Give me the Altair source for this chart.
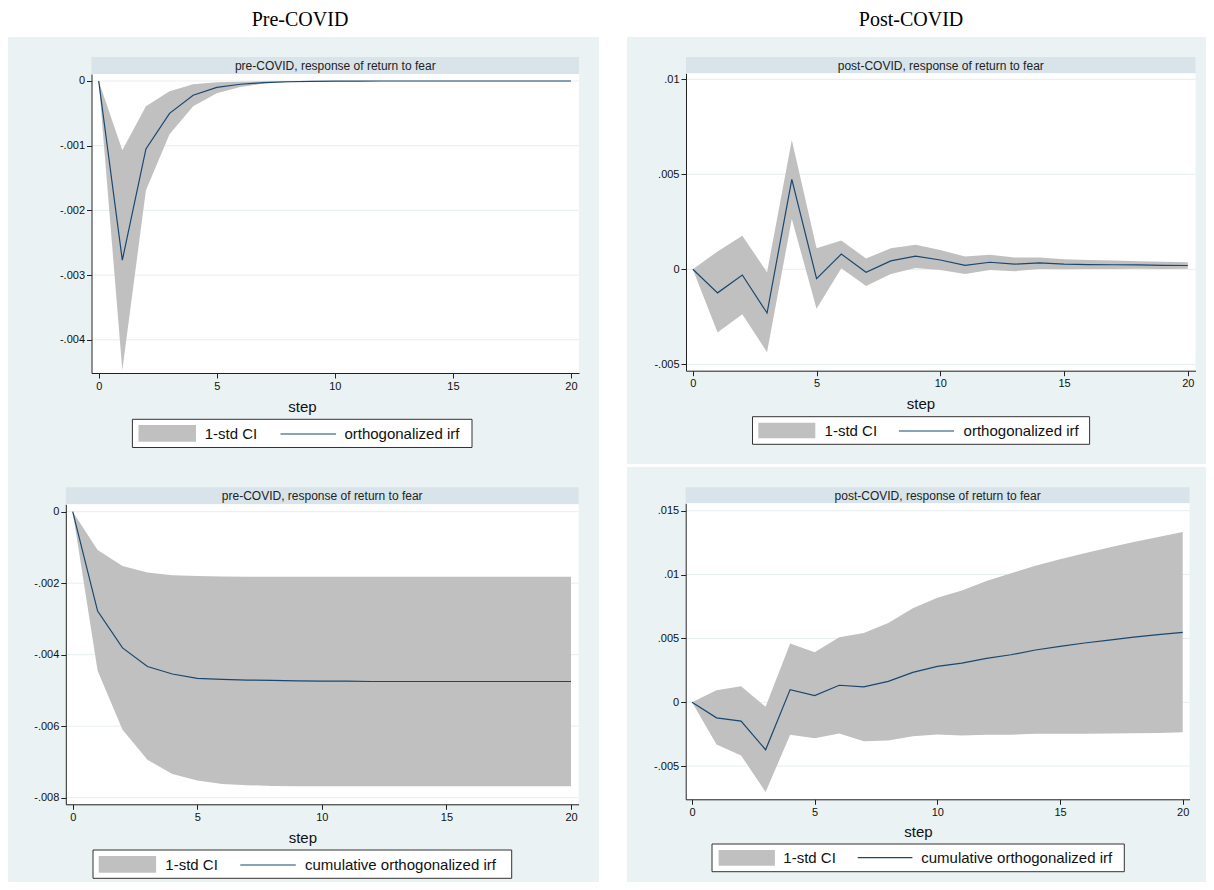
import altair as alt
import pandas as pd

# ---------------- data ----------------
STEPS = list(range(21))
X_TICKS = [0, 5, 10, 15, 20]

# pre-COVID, orthogonalized irf
PRE_IRF = [0, -0.00277, -0.00105, -0.00050, -0.00022, -0.00010, -0.00005, -0.000025,
           -0.000012, -0.000006, -0.000003, -0.0000015, 0, 0, 0, 0, 0, 0, 0, 0, 0]
PRE_IRF_HI = [0, -0.00107, -0.00039, -0.00016, -0.00005, -0.00002, -0.00001, -0.000005,
              -0.000002, 0, 0, 0, 0, 0, 0, 0, 0, 0, 0, 0, 0]
PRE_IRF_LO = [0, -0.00447, -0.00169, -0.000825, -0.00039, -0.00019, -0.000093, -0.00004,
              -0.00002, -0.00001, -0.000005, -0.000002, 0, 0, 0, 0, 0, 0, 0, 0, 0]
PRE_IRF_TICKS = [0, -0.001, -0.002, -0.003, -0.004]
PRE_IRF_LABELS = ["0", "-.001", "-.002", "-.003", "-.004"]

# post-COVID, orthogonalized irf
POST_IRF = [0, -0.00124, -0.0003, -0.0023, 0.00473, -0.00049, 0.0008, -0.00016, 0.00044,
            0.00069, 0.00049, 0.00021, 0.00037, 0.00027, 0.00034, 0.00027, 0.00025,
            0.00024, 0.00023, 0.00021, 0.0002]
POST_IRF_HI = [0, 0.00094, 0.00177, -0.00015, 0.0068, 0.00111, 0.00152, 0.00057, 0.00111,
               0.00129, 0.00102, 0.00067, 0.00076, 0.00062, 0.00062, 0.00053, 0.00049,
               0.00046, 0.00043, 0.0004, 0.00037]
POST_IRF_LO = [0, -0.00332, -0.00237, -0.00436, 0.00265, -0.00208, 0.00005, -0.00088,
               -0.00025, 0.00007, -0.00004, -0.00025, -0.00004, -0.0001, 0.00002, 0.0,
               0.00001, 0.00002, 0.00003, 0.00002, 0.00003]
POST_IRF_TICKS = [0.01, 0.005, 0, -0.005]
POST_IRF_LABELS = [".01", ".005", "0", "-.005"]

# pre-COVID, cumulative orthogonalized irf
PRE_CUM = [0, -0.00278, -0.00381, -0.00433, -0.00454, -0.00466, -0.00469, -0.00471,
           -0.00472, -0.00473, -0.00474, -0.00474, -0.00475, -0.00475, -0.00475,
           -0.00475, -0.00475, -0.00475, -0.00475, -0.00475, -0.00475]
PRE_CUM_HI = [0, -0.00107, -0.00152, -0.0017, -0.00178, -0.0018, -0.00181, -0.00182,
              -0.00182, -0.00182, -0.00182, -0.00182, -0.00182, -0.00182, -0.00182,
              -0.00182, -0.00182, -0.00182, -0.00182, -0.00182, -0.00182]
PRE_CUM_LO = [0, -0.00445, -0.0061, -0.00694, -0.00734, -0.00752, -0.00762, -0.00765,
              -0.00767, -0.00768, -0.00768, -0.00768, -0.00768, -0.00768, -0.00768,
              -0.00768, -0.00768, -0.00768, -0.00768, -0.00768, -0.00768]
PRE_CUM_TICKS = [0, -0.002, -0.004, -0.006, -0.008]
PRE_CUM_LABELS = ["0", "-.002", "-.004", "-.006", "-.008"]

# post-COVID, cumulative orthogonalized irf
POST_CUM = [0, -0.00122, -0.00148, -0.00372, 0.00099, 0.00052, 0.00133, 0.0012, 0.00164,
            0.00234, 0.00281, 0.00307, 0.00344, 0.00372, 0.00409, 0.00438, 0.00464,
            0.00487, 0.0051, 0.00529, 0.00547]
POST_CUM_HI = [0, 0.00094, 0.00125, -0.00036, 0.00461, 0.00391, 0.0051, 0.00542, 0.0062,
               0.00737, 0.00818, 0.00875, 0.0095, 0.0101, 0.01068, 0.0112, 0.01167,
               0.01211, 0.01255, 0.01294, 0.01333]
POST_CUM_LO = [0, -0.00331, -0.00417, -0.00703, -0.00255, -0.00281, -0.00245, -0.00305,
               -0.003, -0.00266, -0.00253, -0.0026, -0.00255, -0.00255, -0.00247,
               -0.00247, -0.00247, -0.00245, -0.00242, -0.0024, -0.00234]
POST_CUM_TICKS = [0.015, 0.01, 0.005, 0, -0.005]
POST_CUM_LABELS = [".015", ".01", ".005", "0", "-.005"]

STRIP_PRE = "pre-COVID, response of return to fear"
STRIP_POST = "post-COVID, response of return to fear"
CI_LABEL = "1-std CI"
IRF_LABEL = "orthogonalized irf"
CUM_LABEL = "cumulative orthogonalized irf"
X_TITLE = "step"
COL_TITLES = ["Pre-COVID", "Post-COVID"]

# ---------------- styling ----------------
BG = "#EAF2F3"
STRIP = "#D8E4E9"
GRID = "#E6EEF0"
CI_FILL = "#C0C0C0"
LINE = "#1A476F"
AXIS = "#222222"
TXT = "#111111"
SANS = "Liberation Sans"
SERIF = "Liberation Serif"

ONE = pd.DataFrame({"k": [0]})


def label_expr(vals, labels):
    expr = "''"
    for v, lab in zip(vals, labels):
        expr = f"(datum.value == {v!r} ? '{lab}' : {expr})"
    return expr


def rect(x1, x2, y1, y2, **kw):
    return alt.Chart(ONE).mark_rect(**kw).encode(
        x=alt.value(x1), x2=alt.value(x2), y=alt.value(y1), y2=alt.value(y2))


def text(x, y, s, **kw):
    return alt.Chart(ONE).mark_text(**kw).encode(
        x=alt.value(x), y=alt.value(y), text=alt.value(s))


def panel(p):
    W, H = p["W"], p["H"]
    l, r, t, b = p["plot"]
    xs = alt.Scale(domain=p["xdom"], range=[l, r], nice=False, zero=False)
    ys = alt.Scale(domain=p["ydom"], range=[b, t], nice=False, zero=False)
    xaxis = alt.Axis(values=X_TICKS, format="d", title=X_TITLE, offset=b - H, grid=False,
                     zindex=1, domainColor=AXIS, domainWidth=1, tickColor=AXIS, tickSize=5,
                     labelFont=SANS, labelFontSize=11, labelColor=TXT, labelPadding=2,
                     labelFlush=False, titleFont=SANS, titleFontSize=15,
                     titleFontWeight="normal", titleColor=TXT, titleX=p["stepx"],
                     titleY=p["stepy"], titleBaseline="middle", titleAlign="center")
    yaxis = alt.Axis(values=p["yticks"], labelExpr=label_expr(p["yticks"], p["ylabels"]),
                     title=None, offset=-l, grid=False, zindex=1, domainColor=AXIS,
                     domainWidth=1, tickColor=AXIS, tickSize=5, labelFont=SANS,
                     labelFontSize=11, labelColor=TXT, labelPadding=2, labelFlush=False,
                     labelOverlap=False)
    df = pd.DataFrame({"step": STEPS, "est": p["est"], "lo": p["lo"], "hi": p["hi"]})
    X = alt.X("step:Q", scale=xs, axis=xaxis)
    layers = []
    if p.get("title"):
        layers.append(rect(0, W, -29, 0, fill="white"))
        layers.append(text(p["title_x"], -17, p["title"], font=SERIF, fontSize=20,
                           color="black", baseline="middle", align="center"))
    if p.get("bg_bottom"):
        layers.append(rect(0, W, p["bg_bottom"], H, fill="white"))
    st = p["strip_top"]
    layers.append(rect(l, r, st, t, fill=STRIP))
    layers.append(text((l + r) / 2, (st + t) / 2 + 0.5, p["strip"], font=SANS,
                       fontSize=12, color="#222222", baseline="middle", align="center"))
    layers.append(rect(l, r, t, b, fill="white"))
    grid = alt.Chart(pd.DataFrame({"v": p["yticks"]})).mark_rule(
        color=GRID, strokeWidth=1).encode(
        y=alt.Y("v:Q", scale=ys, axis=yaxis), x=alt.value(l), x2=alt.value(r))
    layers.append(grid)
    area = alt.Chart(df).mark_area(color=CI_FILL, opacity=1).encode(
        x=X, y=alt.Y("lo:Q", scale=ys, axis=yaxis), y2="hi:Q")
    line = alt.Chart(df).mark_line(color=LINE, strokeWidth=1.2).encode(
        x=X, y=alt.Y("est:Q", scale=ys, axis=yaxis))
    layers += [area, line]
    lg = p["legend"]
    layers.append(rect(*lg["box"], fill="white", stroke="#333333", strokeWidth=1))
    layers.append(rect(*lg["swatch"], fill=CI_FILL))
    lx1, lx2, ly = lg["line"]
    layers.append(alt.Chart(ONE).mark_rule(color=LINE, strokeWidth=1.2).encode(
        x=alt.value(lx1), x2=alt.value(lx2), y=alt.value(ly)))
    layers.append(text(lg["t1"], ly, CI_LABEL, font=SANS, fontSize=15, color=TXT,
                       baseline="middle", align="left"))
    layers.append(text(lg["t2"], ly, lg["label"], font=SANS, fontSize=15, color=TXT,
                       baseline="middle", align="left"))
    return alt.layer(*layers).properties(width=W, height=H)


TL = panel(dict(
    W=591, H=430, plot=(83.5, 571, 37, 336), strip_top=20,
    xdom=[-0.305, 20.34], ydom=[-0.004513, 0.000108],
    yticks=PRE_IRF_TICKS, ylabels=PRE_IRF_LABELS,
    est=PRE_IRF, lo=PRE_IRF_LO, hi=PRE_IRF_HI, strip=STRIP_PRE,
    stepx=294, stepy=33.7, title=COL_TITLES[0], title_x=292,
    legend=dict(box=(124.4, 464, 382.3, 410.5), swatch=(130.5, 188, 388, 404.7),
                line=(272.5, 328, 397), t1=196.7, t2=336.4, label=IRF_LABEL)))

TR = panel(dict(
    W=579, H=430, plot=(59, 568.5, 36.3, 333.7), strip_top=20, bg_bottom=427,
    xdom=[-0.275, 20.31], ydom=[-0.005337, 0.010316],
    yticks=POST_IRF_TICKS, ylabels=POST_IRF_LABELS,
    est=POST_IRF, lo=POST_IRF_LO, hi=POST_IRF_HI, strip=STRIP_POST,
    stepx=293.5, stepy=32.6, title=COL_TITLES[1], title_x=284,
    legend=dict(box=(125.5, 462.6, 379.7, 407.3), swatch=(131.3, 188.3, 385.7, 401.3),
                line=(271.9, 327, 394), t1=197.6, t2=336.6, label=IRF_LABEL)))

BL = panel(dict(
    W=591, H=415, plot=(57.8, 570.6, 37.3, 337.3), strip_top=20.3,
    xdom=[-0.277, 20.305], ydom=[-0.008185, 0.000207],
    yticks=PRE_CUM_TICKS, ylabels=PRE_CUM_LABELS,
    est=PRE_CUM, lo=PRE_CUM_LO, hi=PRE_CUM_HI, strip=STRIP_PRE,
    stepx=294.3, stepy=33.4,
    legend=dict(box=(85, 503.7, 383, 411.3), swatch=(90.7, 148.1, 389, 405.7),
                line=(232.3, 287.8, 398), t1=157.3, t2=297, label=CUM_LABEL)))

BR = panel(dict(
    W=579, H=415, plot=(58.7, 562.5, 36.3, 332.3), strip_top=20.3,
    xdom=[-0.257, 20.277], ydom=[-0.0076, 0.01558],
    yticks=POST_CUM_TICKS, ylabels=POST_CUM_LABELS,
    est=POST_CUM, lo=POST_CUM_LO, hi=POST_CUM_HI, strip=STRIP_POST,
    stepx=291, stepy=31.7,
    legend=dict(box=(85, 497.3, 377, 404.7), swatch=(91.6, 147.9, 383, 398.7),
                line=(230.7, 285.4, 390.7), t1=156.3, t2=294.2, label=CUM_LABEL)))

chart = alt.concat(
    TL, TR, BL, BR, columns=2, spacing={"row": 0, "column": 28}, bounds="flush"
).properties(background="white", padding=0).configure_view(fill=BG, stroke=None)

chart.save("out.html", embed_options={"renderer": "svg", "actions": False})
